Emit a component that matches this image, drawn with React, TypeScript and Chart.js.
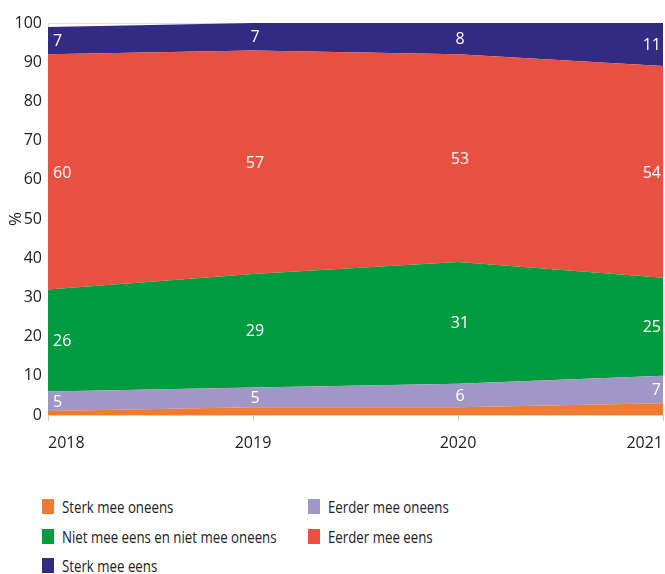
import React, { useEffect, useRef } from "react";
import { Chart, registerables } from "chart.js";

Chart.register(...registerables);

const years = ["2018", "2019", "2020", "2021"];
const sterkOneens = [1, 2, 2, 3];
const eerderOneens = [5, 5, 6, 7];
const neutraal = [26, 29, 31, 25];
const eerderEens = [60, 57, 53, 54];
const sterkEens = [7, 7, 8, 11];
const yTicks = [0, 10, 20, 30, 40, 50, 60, 70, 80, 90, 100];

const seriesNames = [
  "Sterk mee oneens",
  "Eerder mee oneens",
  "Niet mee eens en niet mee oneens",
  "Eerder mee eens",
  "Sterk mee eens",
];
const seriesColors = ["#EF7B30", "#A197C7", "#009B3E", "#E85142", "#332A82"];
const showLabels = [false, true, true, true, true];

const legendOrder = [0, 1, 2, 3, 4];

const FONT = "'Open Sans', sans-serif";

const labelPlugin = {
  id: "bandLabels",
  afterDatasetsDraw(chart: any) {
    const ctx = chart.ctx;
    const yScale = chart.scales.y;
    ctx.save();
    ctx.font = `16px ${FONT}`;
    ctx.fillStyle = "#ffffff";
    ctx.textBaseline = "middle";
    chart.data.datasets.forEach((ds: any, di: number) => {
      if (!showLabels[di]) return;
      const meta = chart.getDatasetMeta(di);
      const prevMeta = di > 0 ? chart.getDatasetMeta(di - 1) : null;
      meta.data.forEach((pt: any, i: number) => {
        const top = pt.y;
        const bottom = prevMeta ? prevMeta.data[i].y : yScale.getPixelForValue(0);
        const y = (top + bottom) / 2 + 1;
        let x = pt.x;
        if (i === 0) {
          ctx.textAlign = "left";
          x += 5;
        } else if (i === meta.data.length - 1) {
          ctx.textAlign = "right";
          x -= 2;
        } else {
          ctx.textAlign = "center";
          x += 2;
        }
        ctx.fillText(String(ds.data[i]), x, y);
      });
    });
    ctx.restore();
  },
};

export default function App() {
  const canvasRef = useRef<HTMLCanvasElement | null>(null);

  useEffect(() => {
    const values = [sterkOneens, eerderOneens, neutraal, eerderEens, sterkEens];
    const chart = new Chart(canvasRef.current as HTMLCanvasElement, {
      type: "line",
      data: {
        labels: years,
        datasets: values.map((v, i) => ({
          label: seriesNames[i],
          data: v,
          backgroundColor: seriesColors[i],
          borderColor: seriesColors[i],
          borderWidth: 0,
          pointRadius: 0,
          fill: i === 0 ? "origin" : "-1",
          tension: 0,
        })),
      },
      options: {
        animation: false,
        responsive: false,
        maintainAspectRatio: false,
        layout: { padding: { top: 23, right: 2, left: 0, bottom: 0 } },
        plugins: { legend: { display: false }, tooltip: { enabled: false } },
        scales: {
          x: {
            type: "category",
            offset: false,
            grid: {
              drawOnChartArea: false,
              drawTicks: true,
              tickLength: 6,
              color: "#cccccc",
            },
            border: { display: true, color: "#f4c8a8" },
            ticks: {
              align: "inner",
              padding: 13,
              color: "#222222",
              font: { family: FONT, size: 16 },
              maxRotation: 0,
            },
            afterFit(scale: any) {
              scale.height = 45;
              scale.paddingLeft = 0;
              scale.paddingRight = 0;
            },
          },
          y: {
            stacked: true,
            min: 0,
            max: 100,
            afterBuildTicks(scale: any) {
              scale.ticks = yTicks.map((v) => ({ value: v }));
            },
            grid: { color: "#dddddd", drawTicks: false },
            border: { display: true, color: "#dddddd" },
            ticks: {
              padding: 6,
              color: "#222222",
              font: { family: FONT, size: 16 },
            },
            title: {
              display: true,
              text: "%",
              color: "#222222",
              font: { family: FONT, size: 17 },
              padding: { top: 6, bottom: 0 },
            },
            afterFit(scale: any) {
              scale.width = 48;
            },
          },
        },
      },
      plugins: [labelPlugin],
    });
    return () => chart.destroy();
  }, []);

  const legendFont = "'Open Sans', sans-serif";

  return (
    <div
      style={{
        position: "fixed",
        left: 0,
        top: 0,
        width: 665,
        height: 574,
        background: "#ffffff",
        overflow: "hidden",
      }}
    >
      <canvas
        ref={canvasRef}
        width={665}
        height={460}
        style={{ position: "absolute", left: 0, top: 0, width: 665, height: 460 }}
      />
      {legendOrder.map((idx, k) => {
        const col = k % 2;
        const row = Math.floor(k / 2);
        return (
          <div
            key={idx}
            style={{
              position: "absolute",
              left: col === 0 ? 42 : 308,
              top: 499 + row * 29.5,
              height: 15,
              display: "flex",
              alignItems: "center",
              whiteSpace: "nowrap",
            }}
          >
            <div
              style={{
                width: 12,
                height: 15,
                background: seriesColors[idx],
                marginRight: 8,
                flex: "0 0 auto",
              }}
            />
            <span
              style={{
                fontFamily: legendFont,
                fontSize: 17,
                color: "#222222",
                display: "inline-block",
                transform: "scaleX(0.78)",
                transformOrigin: "left center",
              }}
            >
              {seriesNames[idx]}
            </span>
          </div>
        );
      })}
    </div>
  );
}
